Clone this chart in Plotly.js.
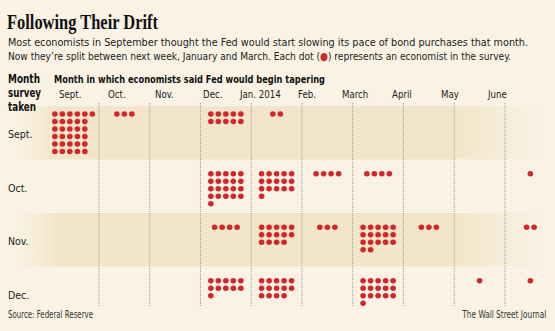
<!DOCTYPE html>
<html>
<head>
<meta charset="utf-8">
<script src="https://cdn.plot.ly/plotly-3.0.1.min.js"></script>
<style>
  html, body { margin: 0; padding: 0; background: #faf3e5; }
  #chart { width: 555px; height: 331px; }
</style>
</head>
<body>
<div id="chart"></div>
<script>
// ---------- data ----------
const surveyMonths = ["Sept.", "Oct.", "Nov.", "Dec."];
const taperMonths = ["Sept.", "Oct.", "Nov.", "Dec.", "Jan. 2014", "Feb.", "March", "April", "May", "June"];
const surveySept = [31, 3, 0, 10, 2, 0, 0, 0, 0, 0];
const surveyOct  = [0, 0, 0, 21, 16, 4, 4, 0, 0, 1];
const surveyNov  = [0, 0, 0, 4, 14, 3, 17, 3, 0, 2];
const surveyDec  = [0, 0, 0, 11, 14, 0, 16, 0, 1, 1];
const surveyCounts = [surveySept, surveyOct, surveyNov, surveyDec];

const titleText = "Following Their Drift";
const subtitle1 = "Most economists in September thought the Fed would start slowing its pace of bond purchases that month.";
const subtitle2 = "Now they\u2019re split between next week, January and March. Each dot (<span style=\"color:#d1262b\">\u25CF</span>) represents an economist in the survey.";
const colHeader = "Month in which economists said Fed would begin tapering";
const rowHeader = ["Month", "survey", "taken"];
const sourceText = "Source: Federal Reserve";
const creditText = "The Wall Street Journal";

// ---------- styling ----------
const BG = "#faf3e5";
const BAND = "#f2e5c9";
const RED = "#d1262b";
const TEXT = "#222222";
const SANS = "'DejaVu Sans Condensed', 'Liberation Sans Narrow', Roboto, sans-serif";
const SERIF = "'Liberation Serif', 'DejaVu Serif', serif";

const W = 555, H = 331;
const colPx = 50.75, col0Px = 73.6;
const rowPx = 53.5, row0Px = 132.75;
const xRange = [-col0Px / colPx, (W - col0Px) / colPx];
const yRange = [(H - row0Px) / rowPx, -row0Px / rowPx];
const dx = 7.5 / colPx, dy = 7.5 / rowPx;
const lab0Px = 70, labPx = 47.44;
const x2Range = [-lab0Px / labPx, (W - lab0Px) / labPx];

function paperY(px) { return 1 - px / H; }
function paperX(px) { return px / W; }

// ---------- dot layout ----------
function cellRows(n) {
  if (n <= 0) return [];
  if (n > 30) { const r = [n - 25]; for (let i = 0; i < 5; i++) r.push(5); return r; }
  const r = [];
  let left = n;
  while (left > 0) { r.push(Math.min(5, left)); left -= 5; }
  return r;
}

const dotX = [], dotY = [];
surveyCounts.forEach((counts, r) => {
  const maxRows = Math.max(...counts.map(n => cellRows(n).length));
  const topOff = maxRows > 5 ? (maxRows - 1) / 2 * dy : 12.5 / rowPx;
  counts.forEach((n, c) => {
    const rows = cellRows(n);
    if (!rows.length) return;
    const w = Math.max(...rows);
    const x0 = c - (w - 1) / 2 * dx;
    rows.forEach((len, k) => {
      for (let j = 0; j < len; j++) {
        dotX.push(x0 + j * dx);
        dotY.push(r - topOff + k * dy);
      }
    });
  });
});

const traces = [];
surveyMonths.forEach((m, r) => {
  if (r % 2 !== 0) return;
  traces.push({
    type: "scatter", mode: "lines",
    x: [xRange[0], xRange[1], xRange[1], xRange[0], xRange[0]],
    y: [r - 0.5, r - 0.5, r + 0.5, r + 0.5, r - 0.5],
    fill: "toself",
    line: { width: 0, color: "rgba(0,0,0,0)" },
    fillcolor: BAND,
    fillgradient: {
      type: "horizontal",
      start: xRange[0], stop: xRange[1],
      colorscale: [[0, BG], [0.03, BG], [0.10, BAND], [0.82, BAND], [0.98, BG], [1, BG]]
    },
    hoverinfo: "skip", showlegend: false
  });
});

traces.push({
  type: "scatter", mode: "markers",
  x: dotX, y: dotY,
  marker: { size: 5.6, color: RED, line: { width: 0 } },
  hoverinfo: "skip", showlegend: false
});

// ---------- dotted separators ----------
const shapes = [];
for (let c = 0; c < taperMonths.length - 1; c++) {
  shapes.push({
    type: "line", xref: "x", yref: "paper",
    x0: c + 0.5, x1: c + 0.5, y0: paperY(103), y1: paperY(306),
    line: { color: "#9a9a9a", width: 1, dash: "1px,1px" }, layer: "above"
  });
}

// ---------- text ----------
const ann = [];
const fitWidth = {};   // annotation index -> rendered width in px
function addText(text, x, y, opts, width) {
  if (width) fitWidth[ann.length] = width;
  ann.push(Object.assign({
    text: text, x: x, y: y, xref: "paper", yref: "paper",
    xanchor: "left", yanchor: "middle", align: "left", showarrow: false,
    borderpad: 0,
    font: { family: SANS, size: 11, color: TEXT }
  }, opts || {}));
}
addText("<b>" + titleText + "</b>", paperX(6), paperY(22), { font: { family: SERIF, size: 20, color: "#111" } }, 151);
addText(subtitle1, paperX(7), paperY(42.5), { font: { family: SANS, size: 11, color: TEXT } }, 520);
addText(subtitle2, paperX(7), paperY(56.5), { font: { family: SANS, size: 11, color: TEXT } }, 503);
const rowHeadW = [32, 33, 28];
rowHeader.forEach((t, i) => {
  addText("<b>" + t + "</b>", paperX(7), paperY(79.5 + i * 13.8), { font: { family: SANS, size: 11.5, color: "#111" } }, rowHeadW[i]);
});
addText("<b>" + colHeader + "</b>", paperX(52.5), paperY(79.5), { font: { family: SANS, size: 11, color: "#111" } }, 271);
taperMonths.forEach((m, c) => {
  ann.push({
    text: m, x: c, y: paperY(94), xref: "x2", yref: "paper",
    xanchor: "center", yanchor: "middle", showarrow: false,
    font: { family: SANS, size: 9.6, color: TEXT }
  });
});
surveyMonths.forEach((m, r) => {
  ann.push({
    text: m, x: paperX(7), y: r, xref: "paper", yref: "y", yshift: -1.5,
    xanchor: "left", yanchor: "middle", showarrow: false, borderpad: 0,
    font: { family: SANS, size: 10.5, color: TEXT }
  });
});
addText(sourceText, paperX(7), paperY(314), { font: { family: SANS, size: 9.6, color: "#333" } }, 85);
addText(creditText, paperX(547), paperY(314), { xanchor: "right", align: "right", font: { family: SANS, size: 9.6, color: "#333" } }, 84);

const layout = {
  width: W, height: H,
  margin: { l: 0, r: 0, t: 0, b: 0, pad: 0 },
  paper_bgcolor: BG, plot_bgcolor: BG,
  showlegend: false, hovermode: false,
  xaxis: { range: xRange, visible: false, fixedrange: true },
  xaxis2: { range: x2Range, visible: false, overlaying: "x", fixedrange: true },
  yaxis: { range: yRange, visible: false, fixedrange: true },
  shapes: shapes,
  annotations: ann
};

Plotly.newPlot("chart", traces, layout, { displayModeBar: false, staticPlot: true }).then(() => {
  document.querySelectorAll("g.annotation").forEach(g => {
    const i = +g.getAttribute("data-index");
    if (fitWidth[i]) {
      const t = g.querySelector("text.annotation-text");
      if (t) {
        t.setAttribute("textLength", fitWidth[i]);
        t.setAttribute("lengthAdjust", "spacingAndGlyphs");
      }
    }
  });
});
</script>
</body>
</html>
